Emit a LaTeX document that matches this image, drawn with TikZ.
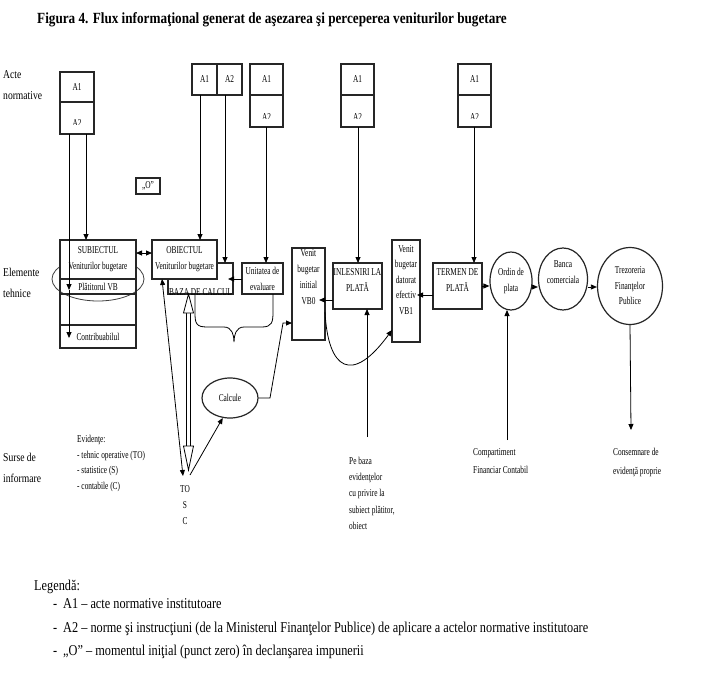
\documentclass[tikz,border=0pt]{standalone}
\usepackage{fontspec}
\setmainfont{Liberation Serif}[FakeStretch=0.7]
\newfontfamily\titlefont{Liberation Serif}[FakeStretch=0.85]
\newfontfamily\legfont{Liberation Serif}[FakeStretch=0.82]
\newfontfamily\sidefont{Liberation Serif}[FakeStretch=0.8]
\usetikzlibrary{arrows.meta,calc,shapes.geometric}
\newcommand{\dfont}{\fontsize{10.5}{16}\selectfont}
\newcommand{\lfont}{\legfont\fontsize{15}{18}\selectfont}
\newcommand{\sfont}{\sidefont\fontsize{12}{21}\selectfont}
\begin{document}
\begin{tikzpicture}[x=1pt,y=-1pt,
  box/.style={draw=black!85, line width=1.4pt, fill=white, inner sep=0pt, outer sep=0pt, anchor=north west, font=\dfont, align=center},
  txt/.style={inner sep=0pt, font=\dfont, align=center, anchor=north},
  ltxt/.style={inner sep=0pt, font=\dfont, align=left, anchor=north west},
  side/.style={inner sep=0pt, font=\sfont, align=left, anchor=north west},
  leg/.style={inner sep=0pt, font=\lfont, anchor=base west},
  ln/.style={line width=0.8pt},
  arr/.style={line width=0.8pt, -{Triangle[length=6pt,width=5pt]}},
  darr/.style={line width=0.8pt, {Triangle[length=6pt,width=5pt]}-{Triangle[length=6pt,width=5pt]}},
  oval/.style={draw=black!85, line width=1.2pt, ellipse, inner sep=0pt, fill=white, font=\dfont, align=center},
]
\useasboundingbox (0,0) rectangle (708,682);
\fill[white] (0,0) rectangle (708,682);

% title
\node[anchor=west, inner sep=0pt, font=\titlefont\bfseries\fontsize{15.5}{18}\selectfont] (title) at (37,20)
  {Figura 4. Flux informaţional generat de aşezarea şi perceperea veniturilor bugetare};

% side labels
\node[side] (acte) at (3,70) {Acte\\normative};
\node[side] (elem) at (3,268) {Elemente\\tehnice};
\node[side] (surse) at (3,453) {Surse de\\informare};

% A1/A2 boxes
\node[box, minimum width=34pt, minimum height=30pt] (a1L) at (60,72) {A1};
\node[box, minimum width=34pt, minimum height=32pt] (a2L) at (60,102) {};
\begin{scope}\clip (60,102) rectangle (94,124);
  \node[txt] (a2Lt) at (77,119) {A2};
\end{scope}
\node[box, minimum width=25pt, minimum height=31pt] (a1M) at (192,64) {A1};
\node[box, minimum width=25pt, minimum height=31pt] (a2M) at (217,64) {A2};
\node[box, minimum width=33pt, minimum height=31pt] (a1B) at (250,64) {A1};
\node[box, minimum width=33pt, minimum height=32pt] (a2B) at (250,95) {};
\node[box, minimum width=33pt, minimum height=31pt] (a1C) at (341,64) {A1};
\node[box, minimum width=33pt, minimum height=32pt] (a2C) at (341,95) {};
\node[box, minimum width=33pt, minimum height=31pt] (a1D) at (458,64) {A1};
\node[box, minimum width=33pt, minimum height=32pt] (a2D) at (458,95) {};
\begin{scope}\clip (250,95) rectangle (283,118.5);
  \node[txt] (a2Bt) at (266.5,113) {A2};
\end{scope}
\begin{scope}\clip (341,95) rectangle (374,118.5);
  \node[txt] (a2Ct) at (357.5,113) {A2};
\end{scope}
\begin{scope}\clip (458,95) rectangle (491,118.5);
  \node[txt] (a2Dt) at (474.5,113) {A2};
\end{scope}

% "O"
\node[box, minimum width=24pt, minimum height=16pt] (zero) at (136,178) {„O”};

% subject block
\node[draw=black!75, line width=0.8pt, ellipse, minimum width=92pt, minimum height=44pt, inner sep=0pt] (ell) at (98,279) {};
\node[box, minimum width=76pt, minimum height=39pt] (subj) at (60,240) {SUBIECTUL\\Veniturilor bugetare};
\node[box, minimum width=76pt, minimum height=15pt, fill=none] (plat) at (60,279) {Plătitorul VB};
\node[box, minimum width=76pt, minimum height=31pt, fill=none] (gol) at (60,294) {};
\node[box, minimum width=76pt, minimum height=23pt] (contr) at (60,325) {Contribuabilul};

% object block
\node[box, minimum width=65pt, minimum height=31pt] (baza) at (168,263) {};
\begin{scope}\clip (168,263) rectangle (233,294);
  \node[txt] (bazat) at (200.5,288) {BAZA DE CALCUL};
\end{scope}
\node[box, minimum width=65pt, minimum height=39pt] (obj) at (152,240) {OBIECTUL\\Veniturilor bugetare};
\node[box, minimum width=41pt, minimum height=31pt] (unit) at (242,263) {Unitatea de\\evaluare};

% venit boxes
\node[box, minimum width=33pt, minimum height=92pt] (vb0) at (292,248) {};
\node[txt] (vb0t) at (308.5,249) {Venit\\bugetar\\initial\\VB0};
\node[box, minimum width=49pt, minimum height=46pt] (inl) at (333,263) {};
\node[txt] (inlt) at (357.5,268) {INLESNIRI LA\\PLATĂ};
\node[box, minimum width=28pt, minimum height=102pt] (vb1) at (392,240) {};
\node[txt, font=\fontsize{10.5}{15.6}\selectfont] (vb1t) at (406,245) {Venit\\bugetar\\datorat\\efectiv\\VB1};
\node[box, minimum width=49pt, minimum height=46pt] (term) at (433,263) {};
\node[txt] (termt) at (457.5,268) {TERMEN DE\\PLATĂ};

% circles
\node[oval, minimum width=42pt, minimum height=58pt] (ord) at (511,281) {Ordin de\\plata};
\node[oval, minimum width=49pt, minimum height=62pt] (banca) at (563,279) {};
\node[txt] (bancat) at (563,260) {Banca\\comerciala};
\node[oval, minimum width=65pt, minimum height=77pt, font=\fontsize{10.5}{15.5}\selectfont] (trez) at (630,286) {Trezoreria\\Finanţelor\\Publice};

\node[oval, minimum width=56pt, minimum height=40pt] (calc) at (230,398) {Calcule};

% bottom texts
\node[ltxt, font=\fontsize{10.5}{15.7}\selectfont] (evid) at (77,435) {Evidenţe:\\- tehnic operative (TO)\\- statistice (S)\\- contabile (C)};
\node[txt] (tsc) at (185,485) {TO\\S\\C};
\node[ltxt, font=\fontsize{10.5}{16.2}\selectfont] (pebaza) at (349,457) {Pe baza\\evidenţelor\\cu privire la\\subiect plătitor,\\obiect};
\node[ltxt, font=\fontsize{10.5}{18.5}\selectfont] (comp) at (473,448) {Compartiment\\Financiar Contabil};
\node[ltxt, font=\fontsize{10.5}{19}\selectfont] (cons) at (613,448) {Consemnare de\\evidenţă proprie};

% vertical lines from the acts
\draw[arr] (69,0 |- a2L.south) -- (69,290);
\draw[arr] (69,290) -- (69,338);
\draw[arr] (86,0 |- a2L.south) -- (86,0 |- subj.north);
\draw[arr] (200,0 |- a1M.south) -- (200,0 |- obj.north);
\draw[arr] (225,0 |- a2M.south) -- (225,0 |- baza.north);
\draw[arr] (266,0 |- a2B.south) -- (266,0 |- unit.north);
\draw[arr] (358,0 |- a2C.south) -- (358,0 |- inl.north);
\draw[arr] (474,0 |- a2D.south) -- (474,0 |- term.north);

% horizontal connectors
\draw[darr] (subj.east |- 0,253) -- (obj.west |- 0,253);
\draw[arr, shorten >=-5pt] (unit.west |- 0,279) -- (baza.east |- 0,279);
\draw[arr, shorten >=-6pt] (inl.west |- 0,300) -- (vb0.east |- 0,300);
\draw[arr, shorten >=-3pt] (term.west |- 0,295) -- (vb1.east |- 0,295);
\draw[arr] (term.east |- 0,286) -- (ord.west |- 0,286);
\draw[arr] (ord.east |- 0,287) -- (banca.west |- 0,287);
\draw[arr] (banca.east |- 0,287) -- (trez.west |- 0,287);

% curve VB0 -> VB1
\draw[arr] (vb0.east |- 0,312) .. controls (328,370) and (352,385) .. (vb1.west |- 0,330);

% calcule -> VB0
\draw[arr] (calc.east) -- (270,398) -- (283,323) -- (vb0.west |- 0,323);

% brace
\draw[ln] (195,0 |- baza.south) -- (195,315) .. controls (195,327) and (200,327) .. (210,327) -- (224,327)
  .. controls (232,327) and (234,335) .. (234,342) .. controls (234,335) and (236,327) .. (244,327)
  -- (262,327) .. controls (272,327) and (273,322) .. (273,312) -- (273,0 |- unit.south);

% sources
\draw[darr] (162,0 |- obj.south) -- ($(tsc.north)+(-2,-9)$);
\draw[ln] (186.5,313) -- (186.5,446);
\draw[ln] (190.5,313) -- (190.5,446);
\draw[ln, fill=white] (183.5,313) -- (188.5,0 |- baza.south) -- (193.5,313) -- cycle;
\draw[ln, fill=white] (183.5,446) -- (188.5,470) -- (193.5,446) -- cycle;
\draw[arr] ($(tsc.north)+(5,-10)$) -- (calc.250);

% arrows from below
\coordinate (pb) at (367,437);
\draw[arr] (pb) -- (367,0 |- inl.south);
\coordinate (cf) at (507,440);
\draw[arr] (cf) -- (507,310);
\coordinate (ce) at (631,430);
\draw[arr] (trez.south) -- (ce);

% legend
\node[leg] (legt) at (34,590) {Legendă:};
\node[leg] (d1) at (53,608) {-};
\node[leg] (l1) at (63,608) {A1 – acte normative institutoare};
\node[leg] (d2) at (53,632) {-};
\node[leg] (l2) at (63,632) {A2 – norme şi instrucţiuni (de la Ministerul Finanţelor Publice) de aplicare a actelor normative institutoare};
\node[leg] (d3) at (53,655) {-};
\node[leg] (l3) at (63,655) {„O” – momentul iniţial (punct zero) în declanşarea impunerii};
\end{tikzpicture}
\end{document}
